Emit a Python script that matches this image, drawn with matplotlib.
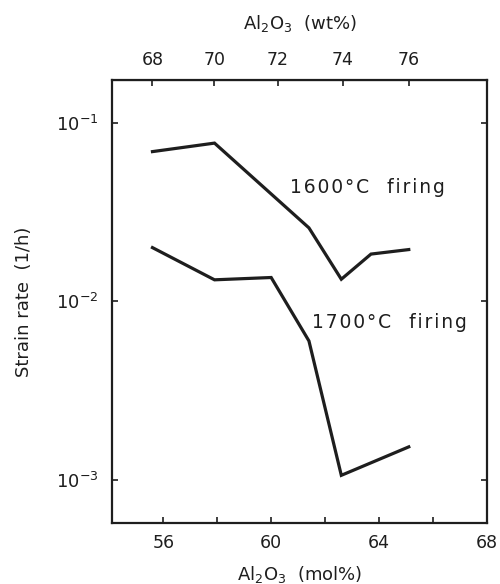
import numpy as np
import matplotlib
matplotlib.use("Agg")
import matplotlib.pyplot as plt

# Al2O3 content (mol%) and strain rate (1/h)
mol_1600 = [55.6, 57.9, 61.4, 62.6, 63.7, 65.1]
rate_1600 = [0.069, 0.077, 0.0258, 0.0133, 0.0184, 0.0195]

mol_1700 = [55.6, 57.9, 60.0, 61.4, 62.6, 65.1]
rate_1700 = [0.0200, 0.0132, 0.0136, 0.0060, 0.00106, 0.00153]

bottom_ticks = [56, 60, 64, 68]
bottom_minor = [58, 62, 66]
top_ticks = [68, 70, 72, 74, 76]  # wt%

M_AL = 101.96
M_SI = 60.08


def wt_to_mol(w):
    w = np.asarray(w, dtype=float)
    a = w / M_AL
    s = (100 - w) / M_SI
    return 100 * a / (a + s)


def mol_to_wt(m):
    m = np.asarray(m, dtype=float)
    a = m * M_AL
    s = (100 - m) * M_SI
    return 100 * a / (a + s)


def spaced(s):
    # wide letter spacing like the original lettering
    return '\u200a'.join(s)


plt.rcParams['font.family'] = 'DejaVu Sans'
plt.rcParams['mathtext.default'] = 'regular'

fig = plt.figure(figsize=(5, 5.84), dpi=100)
ax = fig.add_axes([0.224, 0.105, 0.75, 0.758])

ink = '#1e1e1e'
ax.plot(mol_1600, rate_1600, color=ink, lw=2.3, solid_joinstyle='miter')
ax.plot(mol_1700, rate_1700, color=ink, lw=2.3, solid_joinstyle='miter')

ax.set_yscale('log')
ax.set_xlim(54.1, 68)
ax.set_ylim(10 ** -3.24, 10 ** -0.76)

ax.set_xticks(bottom_ticks)
ax.set_xticks(bottom_minor, minor=True)
ax.set_yticks([1e-3, 1e-2, 1e-1])
ax.set_yticklabels(['$10^{-3}$', '$10^{-2}$', '$10^{-1}$'])
ax.yaxis.set_minor_locator(matplotlib.ticker.NullLocator())

ax.tick_params(which='both', direction='in', length=4, width=1.2, colors=ink,
               labelsize=12.5, right=True, pad=8)
ax.tick_params(axis='y', pad=10, labelsize=13)

for sp in ax.spines.values():
    sp.set_linewidth(1.6)
    sp.set_color(ink)

ax.set_xlabel('Al$_2$O$_3$  (mol%)', fontsize=13, color=ink, labelpad=9)
ax.set_ylabel('Strain rate  (1/h)', fontsize=13, color=ink, labelpad=16)

top = ax.secondary_xaxis('top', functions=(mol_to_wt, wt_to_mol))
top.set_xticks(top_ticks)
top.tick_params(direction='in', length=4, width=1.2, colors=ink,
                labelsize=12.5, pad=8)
top.set_xlabel('Al$_2$O$_3$  (wt%)', fontsize=13, color=ink, labelpad=16)

ax.text(60.7, 0.0432, spaced('1600°C') + '   ' + spaced('firing'),
        fontsize=13.5, color=ink, ha='left', va='center')
ax.text(61.5, 0.0076, spaced('1700°C') + '   ' + spaced('firing'),
        fontsize=13.5, color=ink, ha='left', va='center')

fig.savefig('out.png', dpi=100)
